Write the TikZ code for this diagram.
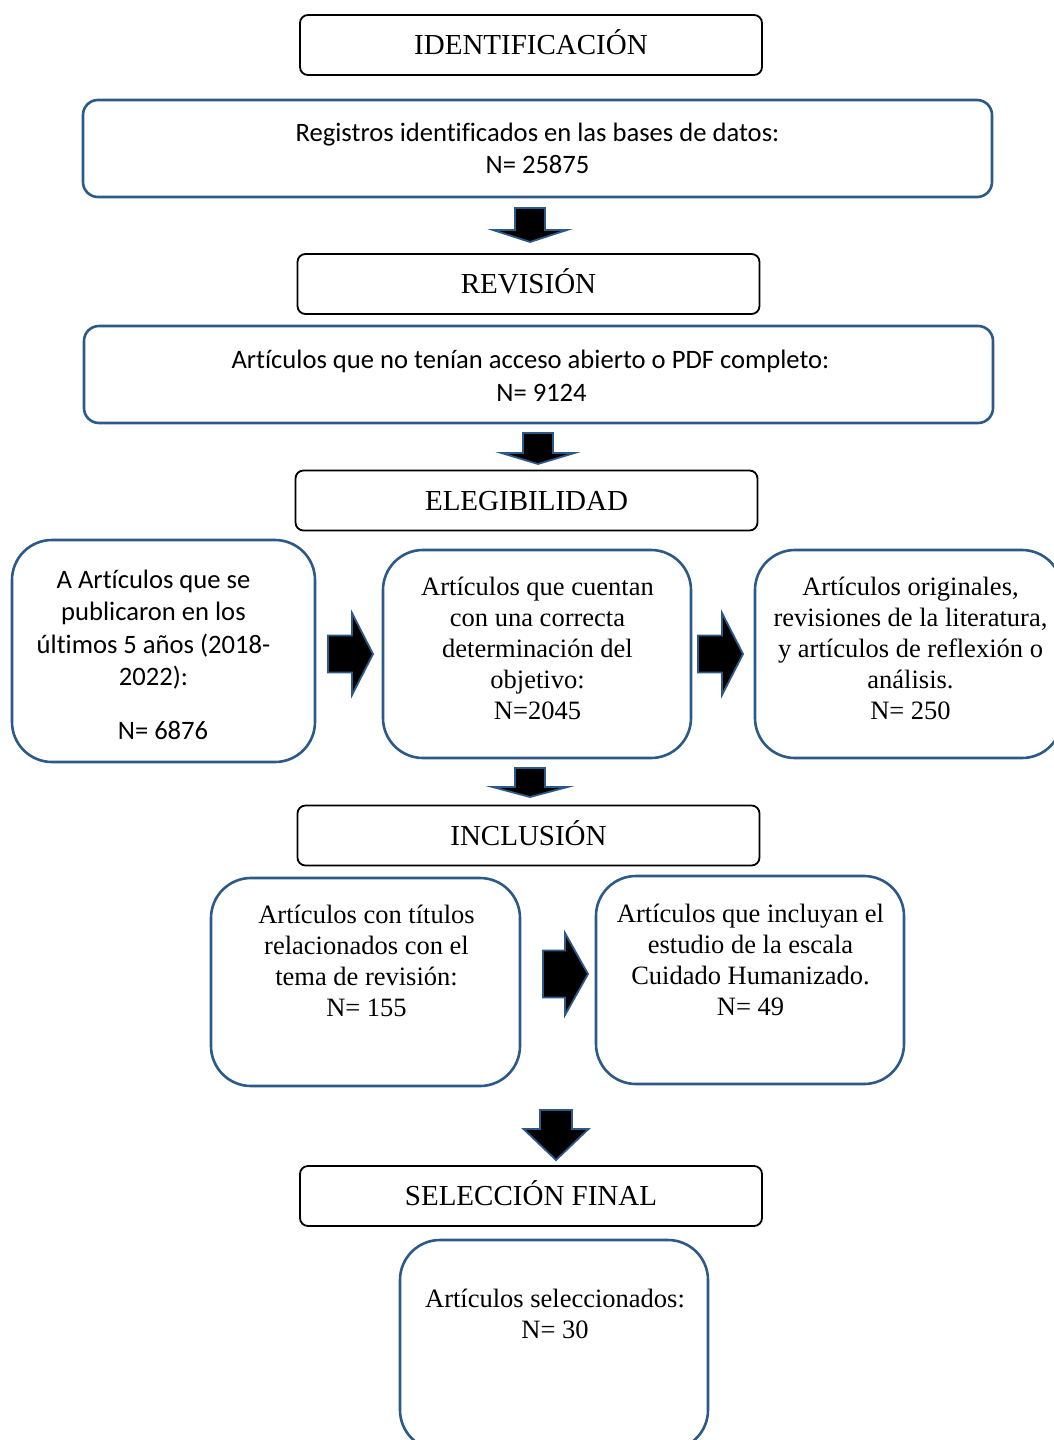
\documentclass[tikz,border=0pt]{standalone}
\usepackage{fontspec}
\setmainfont{Liberation Serif}
\newfontfamily\calibri[Ligatures=NoCommon]{Carlito}
\usetikzlibrary{positioning}
\definecolor{boxblue}{HTML}{2C5A88}

% block arrows, placed at a named coordinate (top or left end)
\newcommand{\blockdown}[5]{%
  \draw[blockarrow, shift={(#1)}] (-#2,0) -- (#2,0) -- (#2,#4) -- (#3,#4) -- (0,#5)
    -- (-#3,#4) -- (-#2,#4) -- cycle;}
\newcommand{\blockright}[5]{%
  \draw[blockarrow, shift={(#1)}] (0,-#2) -- (#4,-#2) -- (#4,-#3) -- (#5,0) -- (#4,#3)
    -- (#4,#2) -- (0,#2) -- cycle;}

\begin{document}
\begin{tikzpicture}[x=1pt,y=-1pt,>=stealth,thick]
  \tikzstyle{stage}=[draw=black, line width=1.8pt, rounded corners=8pt, minimum width=462pt,
    minimum height=60pt, inner sep=0pt, text height=19.2pt, text depth=0pt,
    font=\fontsize{29}{34}\selectfont]
  \tikzstyle{wide}=[draw=boxblue, line width=2.6pt, rounded corners=15pt, minimum width=909pt,
    minimum height=97pt, inner sep=0pt]
  \tikzstyle{card}=[draw=boxblue, line width=2.6pt, rounded corners=40pt, minimum width=308pt,
    minimum height=208pt, inner sep=0pt]
  \tikzstyle{sanstext}=[align=center, inner sep=0pt, font=\calibri\fontsize{26.6}{32.5}\selectfont]
  \tikzstyle{seriftext}=[align=center, inner sep=0pt, font=\fontsize{26.5}{31}\selectfont]
  \tikzstyle{blockarrow}=[fill=black, draw=boxblue, line width=1.8pt, line join=miter]

  \useasboundingbox (0,0) rectangle (1053,1440);

  % stages
  \node[stage] (ident) at (531,45) {IDENTIFICACIÓN};
  \node[stage] (rev) at (528.5,284) {REVISIÓN};
  \node[stage] (eleg) at (526.5,500.5) {ELEGIBILIDAD};
  \node[stage] (incl) at (528.5,835.5) {INCLUSIÓN};
  \node[stage] (selec) at (531,1196) {SELECCIÓN FINAL};

  % wide boxes
  \node[wide, sanstext] (registros) at (537.5,148.5) {Registros identificados en las bases de datos:\\N= 25875};
  \node[wide] (acceso) at (538.5,374.5) {};
  \node[sanstext] (accesotxt) at (541.5,376) {Artículos que no tenían acceso abierto o PDF completo:\hspace*{22pt}\\N= 9124};

  % eligibility boxes
  \node[card, minimum width=303pt, minimum height=222pt] (anios) at (163.5,651) {};
  \node[sanstext] (aniostxt) at (153.5,654.5) {A Artículos que se\\publicaron en los\\últimos 5 años (2018-\\2022):\\[21pt]\hspace*{19pt}N= 6876};
  \node[card] (objetivo) at (537,654) {};
  \node[seriftext] (objetivotxt) at (537.5,648.5) {Artículos que cuentan\\con una correcta\\determinación del\\objetivo:\\N=2045};
  \node[card, minimum width=307pt] (tipo) at (908.5,654) {};
  \node[seriftext] (tipotxt) at (910.5,648.5) {Artículos originales,\\revisiones de la literatura,\\y artículos de reflexión o\\análisis.\\N= 250};

  % inclusion boxes
  \node[card, minimum width=309pt] (titulos) at (365.5,982) {};
  \node[seriftext] (titulostxt) at (366.5,961) {Artículos con títulos\\relacionados con el\\tema de revisión:\\N= 155};
  \node[card] (escala) at (750,980) {};
  \node[seriftext] (escalatxt) at (750.5,960) {Artículos que incluyan el\\estudio de la escala\\Cuidado Humanizado.\\N= 49};

  % final box
  \node[card, minimum height=210pt] (final) at (554,1345) {};
  \node[seriftext] (finaltxt) at (555,1313.5) {Artículos seleccionados:\\N= 30};

  % arrows
  \coordinate (d1) at (530,208);
  \coordinate (d2) at (538,433);
  \coordinate (d3) at (530,768);
  \coordinate (d4) at (556,1110);
  \coordinate (r1) at (328,654);
  \coordinate (r2) at (698,654);
  \coordinate (r3) at (543,974);
  \blockdown{d1}{15}{37}{22}{34}
  \blockdown{d2}{15}{36.5}{20}{31}
  \blockdown{d3}{15}{37.5}{19}{29}
  \blockdown{d4}{16}{32.5}{19}{50}
  \blockright{r1}{18.5}{41}{24}{45}
  \blockright{r2}{18.5}{41}{24}{45}
  \blockright{r3}{23.5}{41}{22}{45}
\end{tikzpicture}
\end{document}
